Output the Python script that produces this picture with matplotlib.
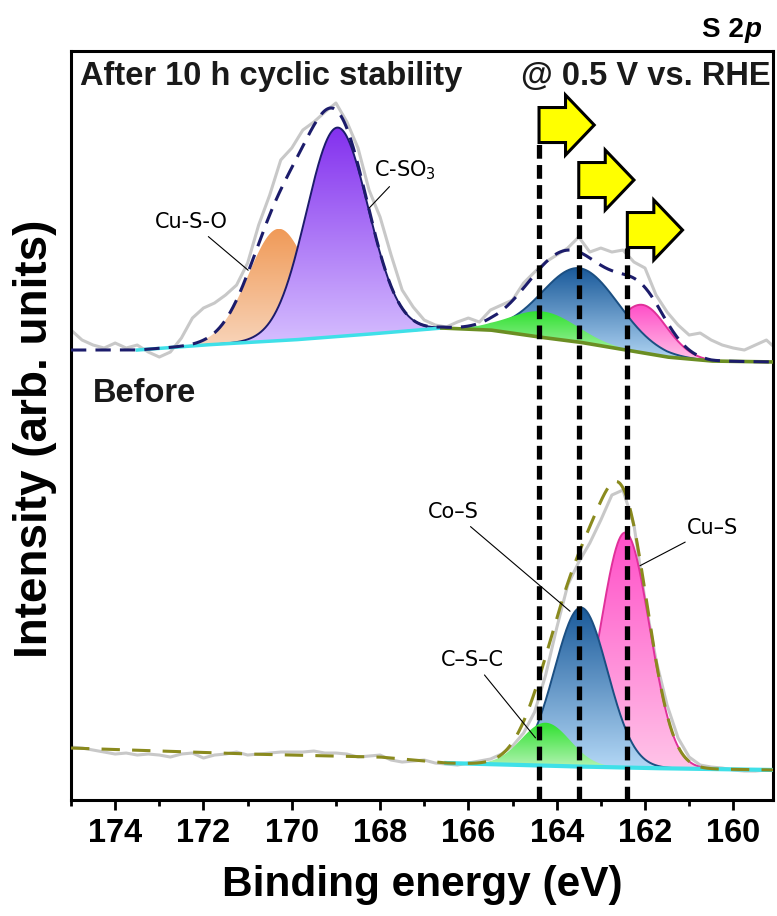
import numpy as np
import matplotlib
matplotlib.use("Agg")
import matplotlib.pyplot as plt
from matplotlib.patches import Polygon, FancyArrow
from matplotlib.colors import LinearSegmentedColormap
from matplotlib.ticker import MultipleLocator

plt.rcParams['font.family'] = ['Liberation Sans', 'DejaVu Sans']
plt.rcParams['font.weight'] = 'bold'

# measured spectra, 0.25 eV steps from 175 to 159 eV (intensity, arb. units)
energy_raw = np.arange(175.0, 158.99, -0.25)
raw_after = [470, 460, 455, 452, 457, 452, 455, 448, 443, 448, 462, 482, 492,
             497, 505, 515, 537, 575, 605, 640, 652, 670, 678, 688, 697, 678,
             652, 610, 583, 545, 510, 493, 480, 475, 473, 478, 482, 478, 490,
             495, 500, 517, 528, 538, 545, 552, 563, 548, 552, 548, 550, 538,
             532, 505, 488, 475, 465, 467, 460, 455, 452, 450, 455, 460, 450]
raw_before = [53, 52, 50, 48, 46, 47, 45, 46, 45, 43, 46, 47, 42, 45, 46, 48,
              45, 46, 47, 48, 48, 48, 49, 47, 47, 46, 43, 44, 45, 40, 38, 39,
              40, 37, 36, 35, 37, 39, 41, 46, 54, 67, 88, 125, 172, 215, 238,
              257, 280, 305, 310, 275, 200, 140, 95, 62, 43, 35, 33, 32, 30,
              29, 29, 30, 30]

# background anchor points (eV, intensity)
bg_after_e = [175, 173.5, 172, 170, 168.5, 166.6, 165.5, 164.4, 163.5, 162.7, 161.5, 160.5, 159]
bg_after_i = [450, 450, 455, 460, 465, 472, 470, 463, 458, 452, 443, 439, 438]
bg_before_e = [175, 171, 168, 166.5, 164, 162, 159]
bg_before_i = [52, 46, 43, 37, 34, 32, 30]

# fitted components: name, centre (eV), height, sigma (eV)
after_names = ['Cu-S-O', 'C-SO3', 'C-S-C', 'Co-S', 'Cu-S']
after_centers = [170.3, 168.97, 164.3, 163.47, 162.05]
after_heights = [112, 209, 26, 74, 48]
after_sigmas = [0.68, 0.70, 0.75, 0.87, 0.55]

before_names = ['C-S-C', 'Co-S', 'Cu-S']
before_centers = [164.25, 163.45, 162.45]
before_heights = [43, 159, 235]
before_sigmas = [0.55, 0.60, 0.55]

# peak shift markers (eV) and arrow heights
shift_positions = [164.4, 163.5, 162.4]
shift_tops = [658, 602, 552]
arrow_levels = [675, 620, 570]

styles = {
    'Cu-S-O': dict(top='#f09a58', bottom='#f8d6bc', edge=None, z=2),
    'C-SO3': dict(top='#8330ee', bottom='#d6bfff', edge='#1c1c6b', z=3),
    'Cu-S': dict(top='#ff4fc8', bottom='#ffc4e8', edge='#e0309a', z=2),
    'Co-S': dict(top='#1a5a9a', bottom='#b4d8f6', edge='#1b4f82', z=3),
    'C-S-C': dict(top='#2ee02e', bottom='#b4f4b4', edge=None, z=4),
}


def gauss(x, c, h, s):
    return h * np.exp(-0.5 * ((x - c) / s) ** 2)


def gradient_fill(ax, x, lower, upper, top, bottom, z):
    verts = np.concatenate([np.column_stack([x, upper]),
                            np.column_stack([x[::-1], lower[::-1]])])
    patch = Polygon(verts, closed=True, facecolor='none', edgecolor='none')
    ax.add_patch(patch)
    cmap = LinearSegmentedColormap.from_list('grad', [bottom, top])
    grad = np.linspace(0, 1, 256).reshape(-1, 1)
    im = ax.imshow(grad, cmap=cmap, aspect='auto', origin='lower',
                   extent=[x.min(), x.max(), lower.min(), upper.max()],
                   interpolation='bilinear', zorder=z)
    im.set_clip_path(patch)


fig = plt.figure(figsize=(7.77, 9.16), dpi=100)
ax = fig.add_axes([0.0914, 0.1266, 0.9035, 0.8177])

E = np.linspace(175, 159, 1601)


def draw_spectrum(raw, bg_e, bg_i, names, centers, heights, sigmas, env_color, env_dash):
    bg = np.interp(E, bg_e[::-1], bg_i[::-1])
    ax.plot(energy_raw, raw, color='#c8c8c8', lw=2.2, zorder=1)
    envelope = bg.copy()
    for name, c, h, s in zip(names, centers, heights, sigmas):
        peak = gauss(E, c, h, s)
        envelope += peak
        m = np.abs(E - c) < 4.5 * s
        st = styles[name]
        gradient_fill(ax, E[m], bg[m], bg[m] + peak[m], st['top'], st['bottom'], st['z'])
        if st['edge']:
            ax.plot(E[m], bg[m] + peak[m], color=st['edge'], lw=1.4, zorder=st['z'] + 0.1)
    ax.plot(E, envelope, color=env_color, lw=2.2, dashes=env_dash, zorder=5)
    return bg


bg_a = draw_spectrum(raw_after, bg_after_e, bg_after_i, after_names, after_centers,
                     after_heights, after_sigmas, '#1c1c6b', (5, 3))
bg_b = draw_spectrum(raw_before, bg_before_e, bg_before_i, before_names, before_centers,
                     before_heights, before_sigmas, '#8a8a1e', (6, 4))

# background lines
left = (E <= 173.5) & (E >= 166.6)
ax.plot(E[left], bg_a[left], color='#3fe0e8', lw=2.5, zorder=4.5)
right = E <= 166.6
ax.plot(E[right], bg_a[right], color='#6b8e23', lw=2.6, zorder=4.5)
low = E <= 166.5
ax.plot(E[low], bg_b[low], color='#3fe0e8', lw=3, zorder=4.5)

# shift markers
for x, top, y in zip(shift_positions, shift_tops, arrow_levels):
    ax.plot([x, x], [0, top], color='black', lw=3.8, dashes=(2.6, 1.2), zorder=6)
    ax.add_patch(FancyArrow(x, y, -1.25, 0, width=35, head_width=60, head_length=0.65,
                            length_includes_head=True, facecolor='#ffff00',
                            edgecolor='black', lw=2.2, zorder=7))

# component labels
lab = dict(fontsize=15, fontweight='normal', color='black',
           family=['Liberation Sans Narrow', 'DejaVu Sans Condensed', 'DejaVu Sans'],
           ha='center', va='center', zorder=8)
line = dict(arrowstyle='-', color='black', lw=0.8)
ax.annotate('Cu-S-O', xy=(170.94, 528), xytext=(172.28, 578), arrowprops=line, **lab)
ax.annotate('C-SO$_\\mathregular{3}$', xy=(168.29, 590), xytext=(167.43, 630), arrowprops=line, **lab)
ax.annotate('Co\u2013S', xy=(163.65, 187), xytext=(166.34, 288), arrowprops=line, **lab)
ax.annotate('Cu\u2013S', xy=(162.17, 233), xytext=(160.48, 272), arrowprops=line, **lab)
ax.annotate('C\u2013S\u2013C', xy=(164.44, 60), xytext=(165.91, 140), arrowprops=line, **lab)

ax.text(174.79, 724, 'After 10 h cyclic stability', fontsize=23.5, fontweight='bold',
        ha='left', va='center', color='#1a1a1a', zorder=8)
ax.text(159.16, 724, '@ 0.5 V vs. RHE', fontsize=23.5, fontweight='bold',
        ha='right', va='center', color='#1a1a1a', zorder=8)
ax.text(174.5, 407, 'Before', fontsize=23.5, fontweight='bold',
        ha='left', va='center', color='#1a1a1a', zorder=8)
t = ax.text(159.75, 770, 'S 2', fontsize=20, fontweight='bold', ha='right',
            va='center', clip_on=False)
ax.annotate('p', xy=(1, 0), xycoords=t, fontsize=20, fontweight='bold',
            style='italic', ha='left', va='bottom')

ax.set_xlim(175, 159.1)
ax.set_ylim(0, 749)
ax.set_yticks([])
ax.xaxis.set_major_locator(MultipleLocator(2))
ax.xaxis.set_minor_locator(MultipleLocator(1))
ax.tick_params(axis='x', which='major', direction='out', length=7, width=2,
               labelsize=23.5, pad=6)
ax.tick_params(axis='x', which='minor', direction='out', length=4.5, width=2)
for lbl in ax.get_xticklabels():
    lbl.set_fontweight('bold')
for sp in ax.spines.values():
    sp.set_linewidth(2.2)

ax.set_xlabel('Binding energy (eV)', fontsize=30.5, fontweight='bold')
ax.xaxis.set_label_coords(0.5, -0.1135)
ax.xaxis.label.set_va('center')
ax.set_ylabel('Intensity (arb. units)', fontsize=33, fontweight='bold')
ax.yaxis.set_label_coords(-0.051, 0.482)
ax.yaxis.label.set_va('center')

fig.savefig('out.png', dpi=100)
